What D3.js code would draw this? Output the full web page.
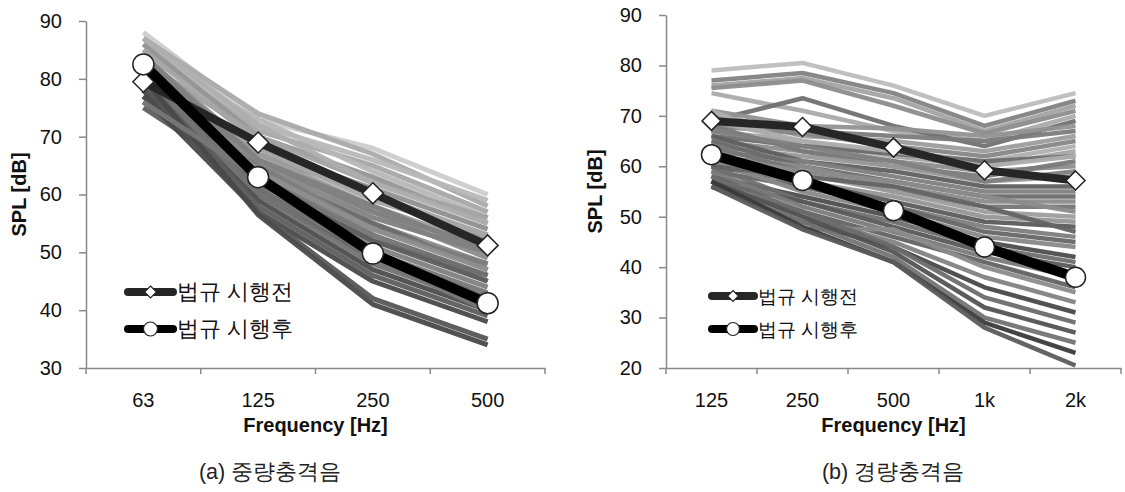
<!DOCTYPE html>
<html><head><meta charset="utf-8">
<script src="https://cdn.jsdelivr.net/npm/d3@7"></script>
<style>
body{margin:0;background:#fff;}
svg text{font-family:"Liberation Sans",Arial,sans-serif;}
</style></head>
<body><svg id="c" width="1125" height="492"></svg>
<script>
// ---------- DATA ----------
const catsHeavy = ["63","125","250","500"];
const heavyBefore = [79.5, 69, 60.2, 51.2];
const heavyAfter  = [82.5, 63, 49.8, 41.2];
const heavyLines = [
 [88,73,68,60],[87,74,67,58],[86,72,66,59],[85,71,65,57],[84,73,64,56],
 [86,70,63,55],[83,70,62,56],[82,68,61,54],[85,69,60,53],[84,67,60,52],
 [81,68,59,53],[80,67,58,51],[83,66,58,50],[79,66,57,49],[82,65,56,50],
 [78,66,55,48],[80,64,55,47],[77,65,54,48],[79,63,53,46],[76,64,53,45],
 [78,62,52,46],[77,62,51,44],[76,61,50,43],[75,62,52,45],[80,61,50,42],
 [79,60,49,42],[81,60,48,41],[78,59,47,40],[80,58,46,39],[77,57,45,38],
 [79,57,42,35],[80,56.5,41,34],[76,63,49,40],[82,64,54,47],[84,66,57,51],
 [87,72,62,55]
];
const heavyYTicks = [30,40,50,60,70,80,90];

const catsLight = ["125","250","500","1k","2k"];
const lightBefore = [69, 67.8, 63.7, 59.2, 57.2];
const lightAfter  = [62.3, 57.2, 51.2, 44, 38];
const lightLines = [
 [79,80.5,76,70,74.5],[77,78.5,74.5,68,73],[76,77.5,73.5,67,72],[75.5,77,72,66.5,71],
 [74.5,71,67,65,70],[69,73.5,68,64,69],[71,68,67.5,66,68],[70,67,66,65,67],
 [70.5,66,65,63,66],[68,66.5,64,62,65],[71,64,63,61,64],[67,65,62,60,63],
 [66,64,62.5,61,62],[65,63,61,59,60],[68,63,60,58,61],[64,62,60,57,58],
 [66,61,59,56,56],[63,61,58,55,55],[65,60,57,54,54],[62,60,56,53,53],
 [64,59,55,52,52],[61,58.5,55,51,50],[63,57,54,50,49],[60,57,53,49,48],
 [62,56,52,48,46],[59,56,52,47,45],[61,55,51,46,44],[58,54,50,45,42],
 [60,53,49,44,41],[57,53,48,43,40],[59,52,47,42,38],[56,51,46,41,36],
 [58,47.5,47.5,40,35],[57,50,45,38,33],[56,49,44,36,31],[58,51,44,34,29],
 [57,50,43,32,27],[56,49,42,30,25],[57,48,41,29,23],[56,47.5,41,28,20.5],
 [60,58,56,52,47],[62,59,57,54,51],[67,64,61,57,59],[69,65,63,60,62]
];
const lightYTicks = [20,30,40,50,60,70,80,90];

const legendLabels = ["법규 시행전","법규 시행후"];
const yTitle = "SPL [dB]";
const xTitle = "Frequency [Hz]";
const captions = ["(a) 중량충격음","(b) 경량충격음"];

// ---------- STYLE ----------
const jitter = [0.9,0.1,0.6,0.3,0.8,0.0,0.5,0.2,0.7,0.4,1.0];
const svg = d3.select("#c");

function panel(o){
  const g = svg.append("g");
  const x = d3.scaleBand().domain(o.cats).range([o.x0,o.x1]);
  const y = d3.scaleLinear().domain(o.ydom).range([o.y0,o.y1]);
  const cx = c => x(c)+x.bandwidth()/2;
  const line = d3.line().x((d,i)=>cx(o.cats[i])).y(d=>y(d)).curve(d3.curveLinear);

  const all = o.lines.map(l=>d3.mean(l));
  const mn = d3.min(all), mx = d3.max(all);
  const col = d3.interpolateRgb(o.dark,o.light);
  g.append("g").selectAll("path").data(o.lines).join("path")
    .attr("d",line).attr("fill","none")
    .attr("stroke",(d,i)=>{const t=(d3.mean(d)-mn)/(mx-mn); return col(Math.max(0,Math.min(1,t*o.mix+jitter[i%jitter.length]*(1-o.mix))));})
    .attr("stroke-width",o.thin).attr("stroke-linejoin","round").attr("opacity",0.95);

  g.append("path").datum(o.before).attr("d",line).attr("fill","none")
    .attr("stroke","#262626").attr("stroke-width",o.thickB).attr("stroke-linejoin","round");
  g.append("path").datum(o.after).attr("d",line).attr("fill","none")
    .attr("stroke","#000").attr("stroke-width",o.thickA).attr("stroke-linejoin","round");
  const ds = o.dia;
  g.append("g").selectAll("path").data(o.before).join("path")
    .attr("d",`M0,${-ds}L${ds},0L0,${ds}L${-ds},0Z`)
    .attr("transform",(d,i)=>`translate(${cx(o.cats[i])},${y(d)})`)
    .attr("fill","#fff").attr("stroke","#222").attr("stroke-width",1.5);
  g.append("g").selectAll("circle").data(o.after).join("circle")
    .attr("cx",(d,i)=>cx(o.cats[i])).attr("cy",d=>y(d)).attr("r",o.cr)
    .attr("fill","#fff").attr("stroke","#222").attr("stroke-width",1.5);

  const ya = g.append("g").attr("transform",`translate(${o.x0},0)`)
    .call(d3.axisLeft(y).tickValues(o.yticks).tickSize(7).tickPadding(o.ypad).tickSizeOuter(0));
  ya.select(".domain").attr("stroke","#888").attr("stroke-width",1.5);
  ya.selectAll(".tick line").attr("stroke","#888").attr("stroke-width",1.5);
  ya.selectAll("text").attr("font-size",20).attr("fill","#111");
  const xa = g.append("g").attr("transform",`translate(0,${o.y0})`)
    .call(d3.axisBottom(x).tickSize(0).tickPadding(o.xpad).tickSizeOuter(0));
  xa.select(".domain").attr("stroke","#888").attr("stroke-width",1.5);
  xa.selectAll("text").attr("font-size",20).attr("fill","#111");
  g.append("g").selectAll("line").data(o.cats.concat(["__end"])).join("line")
    .attr("x1",(c,i)=> i<o.cats.length? x(c): o.x1)
    .attr("x2",(c,i)=> i<o.cats.length? x(c): o.x1)
    .attr("y1",o.y0).attr("y2",o.y0+6).attr("stroke","#888").attr("stroke-width",1.5);

  g.append("text").attr("transform",`translate(${o.ytx},${(o.y0+o.y1)/2}) rotate(-90)`)
    .attr("text-anchor","middle").attr("dominant-baseline","central")
    .attr("font-size",20).attr("font-weight","bold").attr("fill","#111").text(yTitle);
  g.append("text").attr("x",(o.x0+o.x1)/2).attr("y",425)
    .attr("text-anchor","middle").attr("dominant-baseline","central")
    .attr("font-size",20).attr("font-weight","bold").attr("fill","#111").text(xTitle);
  g.append("text").attr("x",o.capx).attr("y",472)
    .attr("text-anchor","middle").attr("dominant-baseline","central")
    .attr("font-family","'Noto Sans CJK KR'")
    .attr("font-size",21.5).attr("fill","#222").text(o.caption);

  const lg = g.append("g").attr("transform",`translate(${o.lx},${o.ly})`);
  [0,1].forEach(k=>{
    const yy = k*o.lgap;
    lg.append("line").attr("x1",0).attr("x2",o.lw).attr("y1",yy).attr("y2",yy)
      .attr("stroke",k?"#000":"#262626").attr("stroke-width",8).attr("stroke-linecap","round");
    if(k===0){
      const s=o.lds;
      lg.append("path").attr("d",`M0,${-s}L${s},0L0,${s}L${-s},0Z`)
        .attr("transform",`translate(${o.lw/2},${yy})`).attr("fill","#fff").attr("stroke","#222").attr("stroke-width",1.2);
    } else {
      lg.append("circle").attr("cx",o.lw/2).attr("cy",yy).attr("r",o.lcr)
        .attr("fill","#fff").attr("stroke","#222").attr("stroke-width",1.2);
    }
    lg.append("text").attr("x",o.lw+4).attr("y",yy).attr("dominant-baseline","central")
      .attr("font-family","'Noto Sans CJK KR'").attr("font-size",o.lfs).attr("fill","#111")
      .text(legendLabels[k]);
  });
}

panel({cats:catsHeavy, lines:heavyLines, before:heavyBefore, after:heavyAfter,
  ydom:[30,90], yticks:heavyYTicks, x0:86, x1:545, y0:368, y1:21,
  thin:5, thickB:8, thickA:10, dia:10.5, cr:10.5, ypad:17, xpad:25, mix:0.75,
  dark:"#3a3a3a", light:"#d0d0d0",
  ytx:19, capx:270, caption:captions[0],
  lx:128, ly:292, lgap:37, lw:45, lds:6, lcr:7, lfs:21.5});

panel({cats:catsLight, lines:lightLines, before:lightBefore, after:lightAfter,
  ydom:[20,90], yticks:lightYTicks, x0:666, x1:1121, y0:368, y1:15,
  thin:4.5, thickB:8, thickA:10, dia:9.5, cr:10, ypad:17, xpad:25, mix:0.5,
  dark:"#383838", light:"#c4c4c4",
  ytx:595, capx:893, caption:captions[1],
  lx:712, ly:296, lgap:33, lw:42, lds:5.5, lcr:6.5, lfs:18.5});
</script></body></html>
